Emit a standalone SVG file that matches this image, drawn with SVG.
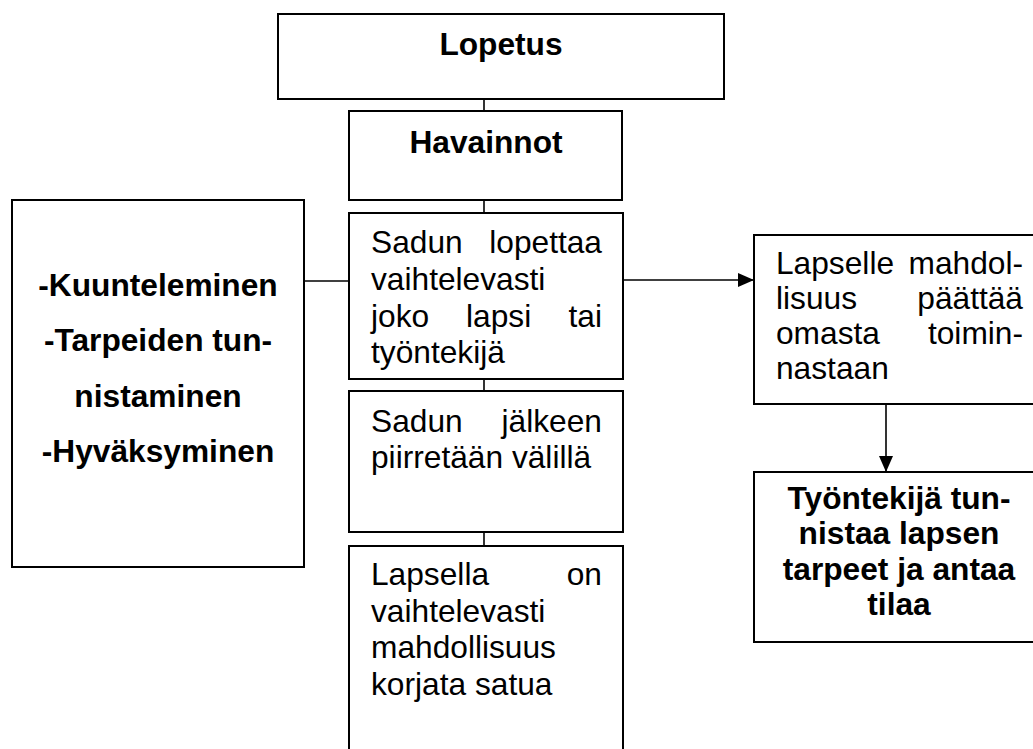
<svg xmlns="http://www.w3.org/2000/svg" width="1033" height="749" viewBox="0 0 1033 749">
  <style>
    .box { fill: #fff; stroke: #000; stroke-width: 2; }
    .t { font-family: "Liberation Sans", Arial, sans-serif; font-size: 31.7px; fill: #000; }
    .b { font-weight: bold; }
    .c { text-anchor: middle; }
    .e { text-anchor: end; }
    .conn { stroke: #000; stroke-width: 1.6; fill: none; }
  </style>
  <defs>
    <marker id="arrow" markerUnits="userSpaceOnUse" markerWidth="16" markerHeight="14" refX="16" refY="7" orient="auto">
      <path d="M0,0 L16,7 L0,14 Z" fill="#000"/>
    </marker>
  </defs>
  <rect width="1033" height="749" fill="#fff"/>

  <g id="connectors">
    <line class="conn" x1="484" y1="99" x2="484" y2="111"/>
    <line class="conn" x1="484" y1="200" x2="484" y2="213"/>
    <line class="conn" x1="484" y1="379" x2="484" y2="391"/>
    <line class="conn" x1="484" y1="532" x2="484" y2="546"/>
    <line class="conn" x1="304" y1="281" x2="349" y2="281"/>
    <line class="conn" x1="623" y1="280" x2="754" y2="280" stroke-width="2" marker-end="url(#arrow)"/>
    <line class="conn" x1="886" y1="404" x2="886" y2="472" stroke-width="2" marker-end="url(#arrow)"/>
  </g>

  <g id="lopetus">
    <rect class="box" x="278" y="14" width="446" height="85"/>
    <text class="t b c" x="501" y="55">Lopetus</text>
  </g>

  <g id="havainnot">
    <rect class="box" x="349" y="111" width="273" height="89"/>
    <text class="t b c" x="486" y="153">Havainnot</text>
  </g>

  <g id="left">
    <rect class="box" x="12" y="200" width="292" height="367"/>
    <text class="t b c" x="158" y="296">-Kuunteleminen</text>
    <text class="t b c" x="158" y="351">-Tarpeiden tun-</text>
    <text class="t b c" x="158" y="407">nistaminen</text>
    <text class="t b c" x="158" y="462">-Hyväksyminen</text>
  </g>

  <g id="box1">
    <rect class="box" x="349" y="213" width="274" height="166"/>
    <text class="t" x="371" y="253">Sadun</text>
    <text class="t e" x="602" y="253">lopettaa</text>
    <text class="t" x="371" y="290">vaihtelevasti</text>
    <text class="t" x="371" y="327">joko</text>
    <text class="t" x="466" y="327">lapsi</text>
    <text class="t e" x="602" y="327">tai</text>
    <text class="t" x="371" y="363">työntekijä</text>
  </g>

  <g id="box2">
    <rect class="box" x="349" y="391" width="274" height="141"/>
    <text class="t" x="371" y="432">Sadun</text>
    <text class="t e" x="602" y="432">jälkeen</text>
    <text class="t" x="371" y="468">piirretään välillä</text>
  </g>

  <g id="box3">
    <rect class="box" x="349" y="546" width="274" height="215"/>
    <text class="t" x="371" y="585">Lapsella</text>
    <text class="t e" x="602" y="585">on</text>
    <text class="t" x="371" y="622">vaihtelevasti</text>
    <text class="t" x="371" y="658">mahdollisuus</text>
    <text class="t" x="371" y="695">korjata satua</text>
  </g>

  <g id="right1">
    <rect class="box" x="754" y="235" width="290" height="169"/>
    <text class="t" x="776" y="274">Lapselle</text>
    <text class="t e" x="1023" y="274">mahdol-</text>
    <text class="t" x="776" y="309">lisuus</text>
    <text class="t e" x="1023" y="309">päättää</text>
    <text class="t" x="776" y="344">omasta</text>
    <text class="t e" x="1023" y="344">toimin-</text>
    <text class="t" x="776" y="379">nastaan</text>
  </g>

  <g id="right2">
    <rect class="box" x="754" y="472" width="290" height="170"/>
    <text class="t b c" x="899" y="509">Työntekijä tun-</text>
    <text class="t b c" x="899" y="544">nistaa lapsen</text>
    <text class="t b c" x="899" y="580">tarpeet ja antaa</text>
    <text class="t b c" x="899" y="615">tilaa</text>
  </g>
</svg>
